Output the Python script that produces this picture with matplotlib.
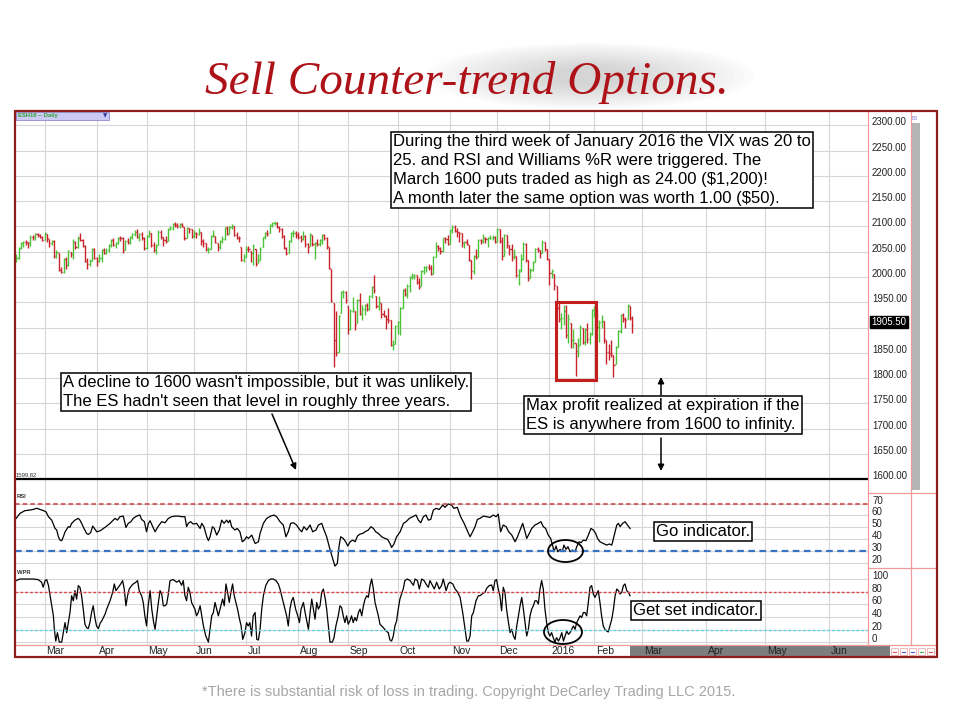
import matplotlib
matplotlib.use("Agg")
import matplotlib.pyplot as plt
import matplotlib.transforms as mtransforms
from matplotlib.collections import LineCollection
from matplotlib.patches import Rectangle, Ellipse
from matplotlib.lines import Line2D

plt.rcParams['font.family'] = ['Liberation Sans', 'DejaVu Sans']

# --- ESH16 daily bars, one per session, Feb 11 2015 .. Feb 24 2016 ---
close = [
    2038, 2058, 2067, 2070, 2069, 2067, 2080, 2079, 2085, 2083, 2080, 2074,  # Feb
    2087, 2077, 2068, 2071, 2041, 2049, 2014, 2010, 2036, 2023, 2051, 2045, 2069, 2059, 2078, 2074,
    2062, 2032, 2026, 2031, 2056, 2038,  # Mar
    2032, 2038, 2053, 2048, 2054, 2063, 2074, 2064, 2067, 2078, 2077, 2053, 2072, 2069, 2079, 2085,
    2089, 2080, 2086, 2078, 2057,  # Apr
    2082, 2088, 2063, 2054, 2062, 2090, 2079, 2073, 2072, 2095, 2097, 2104, 2102, 2100, 2105, 2100,
    2078, 2097, 2094, 2081,  # May
    2088, 2085, 2090, 2071, 2068, 2055, 2056, 2081, 2084, 2070, 2060, 2072, 2076, 2097, 2086, 2098,
    2100, 2084, 2078, 2077, 2034, 2039,  # Jun
    2056, 2055, 2047, 2061, 2025, 2031, 2056, 2079, 2088, 2086, 2103, 2106, 2107, 2099, 2094, 2081,
    2058, 2047, 2072, 2087, 2088, 2083,  # Jul
    2080, 2075, 2082, 2065, 2060, 2086, 2066, 2068, 2065, 2074, 2084, 2078, 2061, 2017, 1953, 1875,
    1850, 1922, 1970, 1971, 1954,  # Aug
    1898, 1933, 1936, 1905, 1954, 1927, 1936, 1945, 1937, 1963, 1980, 1974, 1942, 1951, 1927, 1923,
    1916, 1915, 1866, 1868, 1904,  # Sep
    1911, 1938, 1974, 1967, 1983, 2001, 2002, 2004, 1991, 1981, 2011, 2020, 2020, 2018, 2006, 2039,
    2062, 2058, 2052, 2077, 2076, 2066,  # Oct
    2093, 2098, 2091, 2089, 2088, 2067, 2070, 2065, 2034, 2012, 2042, 2040, 2073, 2071, 2078, 2075,
    2078, 2078, 2080, 2069,  # Nov
    2094, 2072, 2042, 2084, 2069, 2055, 2040, 2045, 2004, 2014, 2035, 2065, 2033, 1998, 2013, 2030,
    2056, 2053, 2048, 2070, 2055, 2036,  # Dec
    2007, 2011, 1985, 1938, 1917, 1919, 1933, 1885, 1916, 1875, 1876, 1854, 1863, 1902, 1872, 1898,
    1877, 1888, 1935,  # Jan 2016
    1938, 1902, 1911, 1913, 1878, 1852, 1850, 1849, 1827, 1862, 1893, 1924, 1916, 1915, 1944, 1919,
    1905.5,  # Feb 2016
]
high = [
    2045, 2060, 2069, 2072, 2074, 2070, 2083, 2083, 2087, 2088, 2086, 2082,
    2090, 2086, 2075, 2074, 2073, 2054, 2047, 2020, 2038, 2040, 2053, 2050, 2076, 2072, 2081, 2088,
    2075, 2064, 2038, 2035, 2058, 2057,
    2040, 2045, 2056, 2058, 2058, 2065, 2075, 2078, 2070, 2080, 2082, 2079, 2074, 2078, 2081, 2088,
    2092, 2094, 2088, 2089, 2079,
    2084, 2093, 2088, 2070, 2066, 2093, 2092, 2080, 2082, 2097, 2100, 2106, 2108, 2107, 2107, 2106,
    2099, 2099, 2097, 2094,
    2092, 2090, 2096, 2090, 2075, 2068, 2060, 2083, 2092, 2082, 2068, 2074, 2082, 2099, 2100, 2101,
    2104, 2100, 2090, 2082, 2060, 2045,
    2062, 2062, 2052, 2066, 2055, 2045, 2060, 2080, 2090, 2092, 2104, 2108, 2111, 2108, 2100, 2096,
    2084, 2060, 2074, 2090, 2093, 2091,
    2090, 2084, 2091, 2083, 2068, 2088, 2084, 2070, 2076, 2076, 2086, 2086, 2080, 2060, 2015, 1948,
    1932, 1925, 1972, 1975, 1972,
    1942, 1936, 1960, 1932, 1956, 1968, 1944, 1946, 1948, 1965, 1982, 2004, 1962, 1962, 1948, 1935,
    1925, 1938, 1915, 1876, 1906,
    1914, 1940, 1976, 1978, 1986, 2003, 2008, 2006, 2004, 1998, 2013, 2022, 2022, 2026, 2024, 2041,
    2070, 2064, 2060, 2078, 2080, 2083,
    2094, 2102, 2103, 2096, 2090, 2087, 2072, 2076, 2064, 2033, 2044, 2055, 2075, 2076, 2085, 2080,
    2080, 2084, 2084, 2082,
    2096, 2094, 2080, 2086, 2084, 2064, 2065, 2055, 2042, 2016, 2046, 2070, 2068, 2033, 2018, 2032,
    2058, 2060, 2054, 2073, 2070, 2056,
    2035, 2016, 2005, 1982, 1950, 1928, 1945, 1945, 1926, 1910, 1898, 1870, 1880, 1905, 1900, 1900,
    1910, 1892, 1937,
    1942, 1936, 1915, 1924, 1913, 1876, 1868, 1875, 1845, 1864, 1895, 1926, 1928, 1920, 1946, 1942,
    1922,
]
low = [
    2030, 2036, 2055, 2060, 2064, 2058, 2062, 2074, 2073, 2079, 2077, 2072,
    2073, 2070, 2060, 2064, 2038, 2038, 2012, 2008, 2008, 2016, 2022, 2040, 2036, 2056, 2058, 2072,
    2060, 2030, 2016, 2022, 2032, 2036,
    2022, 2030, 2030, 2046, 2045, 2050, 2060, 2062, 2058, 2066, 2072, 2048, 2054, 2066, 2066, 2075,
    2082, 2078, 2072, 2073, 2054,
    2056, 2080, 2060, 2050, 2045, 2064, 2076, 2062, 2068, 2072, 2092, 2092, 2098, 2096, 2096, 2098,
    2074, 2078, 2088, 2078,
    2078, 2078, 2083, 2064, 2060, 2052, 2048, 2056, 2080, 2068, 2052, 2056, 2068, 2074, 2084, 2086,
    2095, 2082, 2076, 2070, 2032, 2030,
    2040, 2050, 2030, 2023, 2022, 2027, 2034, 2060, 2076, 2082, 2088, 2098, 2102, 2096, 2090, 2078,
    2055, 2043, 2048, 2070, 2080, 2078,
    2076, 2070, 2074, 2060, 2048, 2062, 2062, 2036, 2062, 2062, 2066, 2074, 2056, 2015, 1950, 1822,
    1844, 1852, 1928, 1958, 1948,
    1888, 1895, 1930, 1896, 1910, 1924, 1915, 1925, 1932, 1935, 1958, 1968, 1938, 1935, 1918, 1920,
    1898, 1910, 1864, 1855, 1868,
    1888, 1886, 1938, 1962, 1958, 1970, 1996, 1996, 1987, 1976, 1982, 2006, 2010, 2014, 2004, 2005,
    2040, 2052, 2046, 2050, 2068, 2064,
    2065, 2087, 2089, 2080, 2070, 2060, 2058, 2063, 2032, 1996, 2006, 2036, 2040, 2066, 2068, 2068,
    2060, 2075, 2074, 2068,
    2070, 2068, 2034, 2042, 2058, 2044, 2032, 2036, 2000, 1985, 2010, 2034, 2030, 1993, 1998, 2012,
    2030, 2050, 2038, 2048, 2052, 2034,
    1984, 1998, 1975, 1935, 1912, 1897, 1905, 1880, 1870, 1860, 1860, 1804, 1842, 1865, 1868, 1865,
    1870, 1868, 1886,
    1920, 1898, 1872, 1900, 1870, 1828, 1836, 1842, 1802, 1828, 1862, 1890, 1912, 1900, 1916, 1915,
    1889,
]

# RSI readings (session number, value)
rsi_bar = [
    0, 1.6, 3.7, 5.8, 7.2, 8.6, 10.0, 11.5, 12.6, 13.6, 15.0, 16.4, 17.1, 17.8, 18.5, 19.2, 19.9, 20.6,
    22.0, 22.7, 23.4, 24.1, 24.8, 26.2, 26.9, 27.6, 28.6, 29.7, 30.4, 31.4, 32.3, 33.0, 34.0, 35.4,
    36.8, 38.2, 39.6, 40.7, 41.7, 42.7, 43.8, 45.2, 46.3, 47.3, 48.4, 49.4, 50.8, 52.2, 52.9, 54.1,
    55.0, 55.8, 56.5, 57.6, 58.6, 60.0, 61.4, 62.8, 64.2, 65.6, 67.0, 68.4, 69.8, 71.2, 71.9, 72.6,
    73.6, 74.7, 76.1, 77.6, 78.3, 79.2, 80.4, 81.1, 81.8, 82.8, 83.6, 84.6, 85.7, 86.7, 87.7, 88.8,
    89.5, 90.2, 90.9, 92.3, 93.3, 94.4, 95.4, 96.3, 97.2, 98.0, 99.4, 100.8, 101.5, 102.2, 102.9,
    104.3, 105.7, 107.4, 108.8, 109.9, 111.3, 112.7, 113.8, 114.8, 115.8, 117.0, 118.3, 119.5, 120.5,
    121.4, 122.6, 124.0, 125.1, 126.5, 127.5, 128.9, 129.9, 131.0, 132.1, 133.5, 134.5, 135.5, 136.2,
    136.9, 138.0, 139.0, 139.9, 140.9, 142.0, 143.0, 144.0, 145.1, 146.2, 147.2, 148.6, 149.7, 150.7,
    151.7, 152.8, 154.2, 155.6, 156.7, 157.7, 158.4, 159.4, 160.5, 162.0, 163.4, 164.5, 165.9, 167.3,
    168.7, 169.7, 170.7, 171.8, 172.9, 173.9, 174.9, 176.0, 177.1, 178.5, 180.0, 180.9, 182.3, 183.7,
    184.7, 186.1, 187.5, 189.0, 190.1, 191.5, 192.6, 193.6, 194.6, 195.7, 197.1, 198.5, 199.9, 201.3,
    202.5, 203.4, 204.4, 205.5, 206.7, 207.8, 209.1, 210.5, 211.5, 212.6, 213.7, 214.7, 215.4, 216.5,
    217.5, 218.9, 220.3, 221.4, 222.4, 223.4, 224.5, 225.5, 226.4, 226.9, 227.8, 228.5, 229.5, 230.4,
    231.1, 232.0, 232.8, 233.7, 234.7, 235.8, 236.5, 237.5, 238.3, 239.3, 240.4, 241.4, 242.5, 243.5,
    244.5, 245.3, 246.3, 247.7, 249.1, 250.3, 251.3, 252.0, 252.7, 253.4, 254.1, 254.8, 255.9, 256.9,
    257.9, 259.0,
]
rsi = [
    57.5, 61.7, 64, 64.5, 65, 66, 65, 64, 63, 58.9, 56, 49, 47.7, 42, 39.2, 38.7, 42, 46, 50.5, 50,
    53.3, 54.7, 56, 57.5, 56, 53.3, 49, 44.8, 44, 45.4, 51, 49, 46.2, 47, 49, 51, 53.3, 55.5, 57.5, 56,
    58.9, 59.4, 49.9, 53.3, 54.7, 57.5, 59.4, 60.3, 56.6, 54.7, 46.2, 53.3, 55.5, 50.5, 46.2, 51, 54.7,
    53.8, 57.5, 58.9, 59.4, 59.4, 58.9, 58.9, 50.5, 53.3, 54.7, 52.7, 53.3, 49, 53.3, 50.5, 42, 38.7,
    42, 50.5, 49, 43.4, 47.7, 56, 53.3, 56, 53.8, 56, 50.5, 47.7, 49, 46.2, 37.8, 39.2, 42, 40.6, 43.4,
    36.4, 37, 37.8, 44.8, 53.3, 57.5, 59.4, 60.3, 58.9, 54.7, 51.9, 42, 46.2, 53.3, 53.8, 51.9, 48.2,
    46.2, 50.5, 47.7, 51.9, 46.2, 47.7, 51.9, 53.3, 47.7, 42, 33.6, 23.8, 17.3, 19.6, 33.6, 42, 40.6,
    37.8, 34.2, 37.8, 39.2, 37.8, 42.6, 44.3, 44.8, 46.2, 47.7, 50.5, 49, 46.2, 44.8, 42, 40.6, 39.8,
    36.4, 33, 35.9, 42, 46.2, 53.3, 54.7, 57.5, 58.9, 60.3, 56, 53.8, 58.9, 60.3, 56, 56.6, 64.5, 65.9,
    65, 68.7, 66.8, 69.6, 68.7, 65.9, 66.8, 58.9, 53.3, 48.2, 42, 46.2, 50.5, 56.6, 57.5, 59.4, 58.9,
    58.3, 60.3, 58.9, 61.1, 46.2, 51.9, 50.5, 46.2, 43.4, 37.8, 42, 47.7, 53.3, 46.2, 40.6, 44.8, 49,
    51.9, 53.3, 54.7, 50.5, 49, 43.4, 40.6, 34.2, 29.4, 34.2, 29.4, 31.4, 29.4, 35, 31.4, 33.6, 29.4,
    30.8, 29.4, 33.6, 37.8, 37, 39.2, 38.7, 43.4, 49, 47.7, 44.8, 40.6, 37.8, 36.4, 35, 35.9, 35, 40.6,
    46.2, 51.9, 53.3, 50.5, 53.3, 54.7, 51.9, 49,
]

# Williams %R readings (session number, value)
wpr_bar = [
    0, 1.6, 4.4, 7.2, 9.3, 10.7, 11.4, 12.2, 12.9, 13.6, 14.3, 15.0, 15.7, 16.1, 16.7, 17.4, 18.2,
    19.2, 19.9, 20.6, 21.3, 22.0, 22.7, 23.4, 24.1, 24.8, 25.5, 26.2, 26.9, 27.6, 28.3, 29.0, 29.7,
    30.4, 31.1, 31.8, 32.5, 33.2, 33.9, 34.7, 35.4, 36.1, 37.5, 38.2, 39.6, 40.7, 41.4, 42.1, 43.1,
    44.1, 44.9, 45.6, 46.3, 47.0, 47.7, 48.7, 49.4, 50.5, 51.2, 51.9, 52.9, 53.6, 54.3, 55.0, 55.7,
    56.5, 57.2, 57.9, 58.6, 59.3, 60.0, 60.7, 61.4, 62.1, 62.8, 63.5, 64.2, 64.9, 66.3, 67.7, 68.8,
    69.8, 70.5, 71.2, 71.9, 72.6, 73.3, 74.0, 74.7, 75.4, 76.1, 76.8, 77.6, 78.3, 79.0, 80.0, 81.1,
    81.8, 82.5, 83.2, 83.9, 84.6, 85.3, 86.0, 87.1, 87.8, 88.5, 89.2, 89.9, 90.6, 91.3, 92.0, 92.7,
    93.4, 94.1, 94.9, 95.6, 96.5, 97.2, 97.9, 98.6, 99.3, 100.0, 100.8, 101.5, 102.2, 102.9, 103.6,
    104.3, 105.3, 106.4, 107.4, 108.5, 109.6, 110.6, 111.3, 112.0, 112.7, 113.4, 114.1, 114.8, 115.5,
    116.2, 116.9, 117.9, 118.8, 119.5, 120.2, 121.2, 121.9, 122.6, 123.3, 124.0, 124.7, 125.4, 126.1,
    126.8, 127.5, 128.2, 128.9, 129.6, 130.3, 131.0, 131.7, 132.4, 133.4, 134.1, 134.9, 135.9, 136.6,
    137.3, 138.0, 138.7, 139.4, 140.1, 140.8, 141.5, 142.2, 142.9, 143.6, 144.4, 145.1, 145.8, 146.5,
    147.2, 147.9, 148.6, 149.3, 150.0, 150.7, 151.4, 152.1, 152.8, 153.5, 154.2, 154.9, 156.0, 157.0,
    157.7, 158.4, 159.1, 159.8, 160.5, 161.2, 161.9, 162.6, 163.3, 164.0, 165.0, 166.2, 167.6, 168.3,
    169.3, 170.1, 171.1, 172.1, 172.9, 173.9, 174.6, 175.6, 176.4, 177.4, 178.5, 179.5, 180.2, 181.4,
    182.3, 183.0, 184.2, 185.2, 186.1, 187.3, 188.4, 189.4, 190.1, 190.8, 191.5, 192.2, 192.9, 194.0,
    195.0, 195.7, 197.1, 197.8, 198.5, 199.6, 200.6, 201.3, 202.0, 202.7, 203.4, 204.1, 204.8, 205.5,
    206.2, 206.9, 207.7, 208.4, 209.1, 209.8, 210.5, 211.2, 211.9, 212.6, 213.3, 214.0, 214.7, 215.4,
    216.1, 216.8, 217.5, 218.2, 218.9, 219.6, 220.3, 221.0, 221.7, 222.4, 223.1, 223.8, 224.5, 225.2,
    225.9, 226.6, 227.3, 228.0, 228.8, 229.5, 230.2, 230.9, 231.6, 232.3, 233.0, 233.7, 234.4, 235.1,
    235.8, 236.5, 237.2, 237.9, 238.6, 239.3, 240.0, 240.7, 241.4, 242.1, 242.8, 243.5, 244.2, 244.9,
    245.6, 246.3, 247.0, 247.7, 248.4, 249.1, 249.8, 250.5, 251.3, 252.0, 252.7, 253.4, 254.1, 254.8,
    255.5, 256.2, 256.9, 257.6, 258.3, 259.0,
]
wpr = [
    97.5, 100, 100, 100, 99, 95, 87, 97.5, 99, 90, 73.6, 57.7, 41.8, 20.5, 1.9, 15.2, 0.3, 0.3, 15.2,
    31.1, 15.2, 31.1, 47, 73.6, 65.6, 81.6, 68.3, 89.6, 86.9, 73.6, 52.4, 28.5, 23.2, 21.6, 31.1, 47,
    57.7, 39.1, 25.8, 21.6, 30.1, 33.8, 44.4, 52.4, 65.6, 78.9, 92.2, 81.6, 86.9, 92.2, 97.5, 84.2,
    57.7, 73.6, 84.2, 89.6, 92.2, 94.9, 97.5, 81.6, 73.6, 63, 41.8, 25.8, 57.7, 81.6, 52.4, 33.8, 20.5,
    41.8, 63, 81.6, 76.3, 57.7, 57.7, 60.4, 76.3, 97.5, 99, 95, 97.5, 90, 97.5, 73.6, 65.6, 86.9, 78.9,
    63, 57.7, 52.4, 41.8, 47, 57.7, 41.8, 25.8, 9.9, 0.3, 20.5, 41.8, 47, 63, 52.4, 41.8, 52.4, 68.3,
    57.7, 92.2, 78.9, 63, 78.9, 92.2, 73.6, 63, 52.4, 39.1, 25.8, 4.6, 15.2, 31.1, 25.8, 31.1, 9.9,
    41.8, 47, 4.6, 3.6, 20.5, 52.4, 73.6, 89.6, 97.5, 100, 100, 97.5, 92.2, 84.2, 73.6, 63, 52.4, 41.8,
    25.8, 52.4, 65.6, 70.9, 52.4, 41.8, 31.1, 52.4, 63, 47, 33.8, 20.5, 47, 68.3, 52.4, 36.5, 63, 52.4,
    57.7, 78.9, 84.2, 71, 52.4, 25.8, 0.3, 0.3, 7.3, 25.8, 41.8, 57.7, 55, 41.8, 31.1, 41.8, 28.5,
    33.8, 41.8, 31.1, 39.1, 33.8, 47, 52.4, 41.8, 57.7, 68.3, 73.6, 71, 89.6, 100, 84.2, 63, 52.4,
    41.8, 28.5, 25.8, 23.2, 17.9, 15.2, 3.6, 1.9, 9.9, 25.8, 33.8, 52.4, 68.3, 76.3, 84.2, 97.5, 100,
    97.5, 90, 100, 97.5, 84.2, 100, 97.5, 92.2, 86.9, 97.5, 90, 84.2, 94.9, 84.2, 90, 100, 81.6, 92.2,
    94.9, 92.2, 84.2, 79.9, 70.9, 47, 20.5, 1.9, 1.9, 9.9, 41.8, 47, 65.6, 73.6, 73.6, 77.9, 78.9,
    85.3, 89.6, 90.6, 81.6, 97.5, 99.1, 84.2, 73.6, 49.7, 86.9, 78.9, 52.4, 31.1, 15.2, 20.5, 9.9, 4.6,
    25.8, 41.8, 57.7, 70.9, 52.4, 31.1, 9.9, 20.5, 41.8, 52.4, 57.7, 65.6, 65.6, 60.4, 84.2, 97.5,
    84.2, 52.4, 31.1, 15.2, 9.9, 15.2, 7.3, 0.3, 7.3, 1.9, 7.3, 15.2, 1.9, 9.9, 17.9, 12.6, 15.2, 20.5,
    25.8, 20.5, 31.1, 36.5, 41.8, 39.1, 47, 47, 41.8, 63, 86.9, 89.6, 76.3, 70.9, 76.3, 81.6, 63, 41.8,
    25.8, 20.5, 17.9, 16.3, 25.8, 36.5, 52.4, 73.6, 84.2, 81.6, 76.3, 78.9, 89.6, 92.2, 81.6, 78.9,
    73.6,
]

# month starts (session number) and their labels; 2016 Mar..Jun is the empty future area
month_bars = [12, 34, 55, 75, 97, 119, 140, 161, 183, 203, 225, 244, 264, 291, 316, 343]
month_labels = ["Mar", "Apr", "May", "Jun", "Jul", "Aug", "Sep", "Oct", "Nov", "Dec",
                "2016", "Feb", "Mar", "Apr", "May", "Jun"]

price_ticks = list(range(1600, 2301, 50))
rsi_ticks = [20, 30, 40, 50, 60, 70]
wpr_ticks = [0, 20, 40, 60, 80, 100]
support_level = 1599.82
last_price = 1905.50

W, H = 960, 720


def fx(px):
    return px / W


def fy(py):
    return 1 - py / H


GREEN = '#4cc23a'
RED = '#c8232b'
GRID = '#d6d6d6'
PINK = '#f19a9a'
FRAME = '#8e1c1c'

fig = plt.figure(figsize=(W / 100, H / 100), dpi=100)
LEFT, RIGHT = 15, 868


def panel(top, bottom):
    return fig.add_axes([fx(LEFT), fy(bottom), (RIGHT - LEFT) / W, (bottom - top) / H])


ax_p = panel(111, 492.7)
ax_r = panel(492.7, 568)
ax_w = panel(568, 645)

for ax in (ax_p, ax_r, ax_w):
    for s in ax.spines.values():
        s.set_visible(False)
    ax.set_xlim(-0.5, 359.4)
    ax.set_xticks(month_bars)
    ax.tick_params(left=False, bottom=False, labelleft=False, labelbottom=False)
    ax.grid(True, color=GRID, lw=0.8)
    ax.set_axisbelow(True)

# price bars (open tick = previous close, kept inside the bar range)
segs, cols = [], []
prev = close[0]
for i, (h, l, c) in enumerate(zip(high, low, close)):
    hi, lo = max(h, c), min(l, c)
    o = min(max(prev, lo), hi)
    segs += [[(i, lo), (i, hi)], [(i - 0.45, o), (i, o)], [(i, c), (i + 0.45, c)]]
    cols += [GREEN if c >= prev else RED] * 3
    prev = c
ax_p.add_collection(LineCollection(segs, colors=cols, linewidths=1.0))
ax_p.set_ylim(1573.5, 2328.3)
ax_p.set_yticks(price_ticks)
ax_p.axhline(support_level, color='black', lw=1.6)
ax_p.add_patch(Rectangle((227.8, 1796), 16.8, 155, fill=False, ec='#c41e1e', lw=2.2, zorder=4))

ax_r.plot(rsi_bar, rsi, color='black', lw=0.9)
ax_r.axhline(70, color='#d23b3b', lw=1.1, dashes=(3, 2))
ax_r.axhline(30, color='#3a72c4', lw=1.6, dashes=(3, 2))
ax_r.set_ylim(15.7, 79.1)
ax_r.set_yticks(range(20, 71, 10))

ax_w.plot(wpr_bar, wpr, color='black', lw=0.9)
ax_w.axhline(80, color='#e04848', lw=1.0, dashes=(2, 1.5))
ax_w.axhline(20, color='#5fd6e6', lw=1.0, dashes=(2, 1.5))
ax_w.set_ylim(-4.3, 117.4)
ax_w.set_yticks(range(0, 101, 20))

# right-hand scale labels (drawn a few px above their level, as in the platform)
lab_up = mtransforms.ScaledTranslation(0, 0.03, fig.dpi_scale_trans)


def right_labels(ax, values, fmt, skip=()):
    tr = mtransforms.blended_transform_factory(fig.transFigure, ax.transData) + lab_up
    for v in values:
        if v in skip:
            continue
        fig.text(fx(872), v, fmt.format(v), transform=tr, fontsize=7, ha='left', va='center',
                 color='#222222')


# the 1900 label sits under the last-price marker
right_labels(ax_p, price_ticks, '{:.2f}', skip=(1900,))
right_labels(ax_r, rsi_ticks, '{}')
right_labels(ax_w, wpr_ticks, '{}')
tr_last = mtransforms.blended_transform_factory(fig.transFigure, ax_p.transData) + lab_up
fig.text(fx(871.5), last_price, f"{last_price:.2f}", transform=tr_last, fontsize=7, ha='left',
         va='center', color='white', zorder=6,
         bbox=dict(boxstyle='square,pad=0.12', fc='black', ec='black'))

# month labels along the bottom strip
fig.add_artist(Rectangle((fx(630), fy(656)), 260 / W, 11 / H, transform=fig.transFigure,
                         color='#7d7d7d', lw=0, zorder=-1))
tr_d = mtransforms.blended_transform_factory(ax_w.transData, fig.transFigure)
for b, s in zip(month_bars, month_labels):
    fig.text(b + 0.8, fy(651), s, transform=tr_d, fontsize=7.5, ha='left', va='center',
             color='#222222')


# platform chrome: separators, scrollbar, buttons, frame
def fline(x1, y1, x2, y2, color=PINK, lw=0.9):
    fig.add_artist(Line2D([fx(x1), fx(x2)], [fy(y1), fy(y2)], transform=fig.transFigure,
                          color=color, lw=lw))


fline(868, 111, 868, 645)
fline(910.7, 111, 910.7, 645)
fline(868, 492.7, 937, 492.7)
fline(868, 568, 937, 568)
fline(15, 645, 937, 645)
fig.add_artist(Rectangle((fx(911.7), fy(490)), 8.3 / W, 367 / H, transform=fig.transFigure,
                         color='#b4b4b4', lw=0))
fig.text(fx(912), fy(119), "BS", fontsize=3.5, color='#8080e0', va='center')
for k, c in enumerate(['#e05050', '#5050e0', '#5050e0', '#50b050', '#e05050']):
    x0 = 891 + k * 9
    fig.add_artist(Rectangle((fx(x0), fy(655)), 7 / W, 7 / H, transform=fig.transFigure,
                             fc='white', ec='#e8b0b0', lw=0.6))
    fline(x0 + 2, 651.5, x0 + 5, 651.5, color=c, lw=0.8)
fig.add_artist(Rectangle((fx(15), fy(657)), 922 / W, 546 / H, transform=fig.transFigure,
                         fill=False, ec=FRAME, lw=1.6, zorder=7))

fig.add_artist(Rectangle((fx(16), fy(120)), 93 / W, 8 / H, transform=fig.transFigure,
                         fc='#cacaf4', ec='#8c8cd0', lw=0.6, zorder=5))
fig.text(fx(18), fy(116), "ESH16 -- Daily", fontsize=4.2, color='#2f9f2f', weight='bold',
         va='center', zorder=6)
fig.text(fx(103), fy(116), "\u25BC", fontsize=4, color='#3a3aa0', va='center', zorder=6,
         family='DejaVu Sans')
fig.text(fx(16), fy(475.5), "1599.82", fontsize=4.2, color='#333333', va='center')
fig.text(fx(17), fy(497), "RSI", fontsize=4.2, color='#333333', va='center', weight='bold')
fig.text(fx(17), fy(572), "WPR", fontsize=4.2, color='#333333', va='center', weight='bold')

# title with a soft grey swoosh behind it
for k in range(14):
    fig.add_artist(Ellipse((fx(590), fy(76)), (330 - 20 * k) / W, (66 - 3.6 * k) / H,
                           transform=fig.transFigure, color='#9a9a9a', alpha=0.03, lw=0,
                           zorder=-2))
fig.text(fx(467), fy(94), "Sell Counter-trend Options.", fontsize=34, family='Liberation Serif',
         style='italic', color='#ad1219', ha='center', va='baseline')

fig.text(fx(469), fy(692),
         "*There is substantial risk of loss in trading. Copyright DeCarley Trading LLC 2015.",
         fontsize=10.5, color='#a6a6a6', ha='center', va='center')


# callouts
def note(x, y, s, size=12):
    fig.text(fx(x), fy(y), s, fontsize=size, ha='left', va='top', linespacing=1.32,
             color='black', zorder=8,
             bbox=dict(boxstyle='square,pad=0.14', fc='white', ec='black', lw=1.1))


def arrow(x1, y1, x2, y2):
    ax_p.annotate('', xy=(x2, H - y2), xytext=(x1, H - y1), xycoords='figure pixels',
                  textcoords='figure pixels', annotation_clip=False, zorder=8,
                  arrowprops=dict(arrowstyle='-|>', color='black', lw=1.1, mutation_scale=9,
                                  shrinkA=0, shrinkB=0))


note(393, 134, "During the third week of January 2016 the VIX was 20 to\n"
               "25. and RSI and Williams %R were triggered. The\n"
               "March 1600 puts traded as high as 24.00 (\\$1,200)!\n"
               "A month later the same option was worth 1.00 (\\$50).")
note(63, 375, "A decline to 1600 wasn't impossible, but it was unlikely.\n"
              "The ES hadn't seen that level in roughly three years.")
note(526, 398, "Max profit realized at expiration if the\n"
               "ES is anywhere from 1600 to infinity.")
note(656, 524, "Go indicator.")
note(633, 603, "Get set indicator.")

arrow(272, 414, 296, 470)
arrow(661, 438, 661, 471)
arrow(661, 395, 661, 377)
arrow(655, 540, 590, 548)
arrow(632, 624, 590, 631)

for cx, cy, w, h in [(565.5, 551, 35, 22), (563, 632, 38, 24)]:
    fig.add_artist(Ellipse((fx(cx), fy(cy)), w / W, h / H, transform=fig.transFigure,
                           fill=False, ec='black', lw=1.3, zorder=8))

fig.savefig("out.png", dpi=100)
